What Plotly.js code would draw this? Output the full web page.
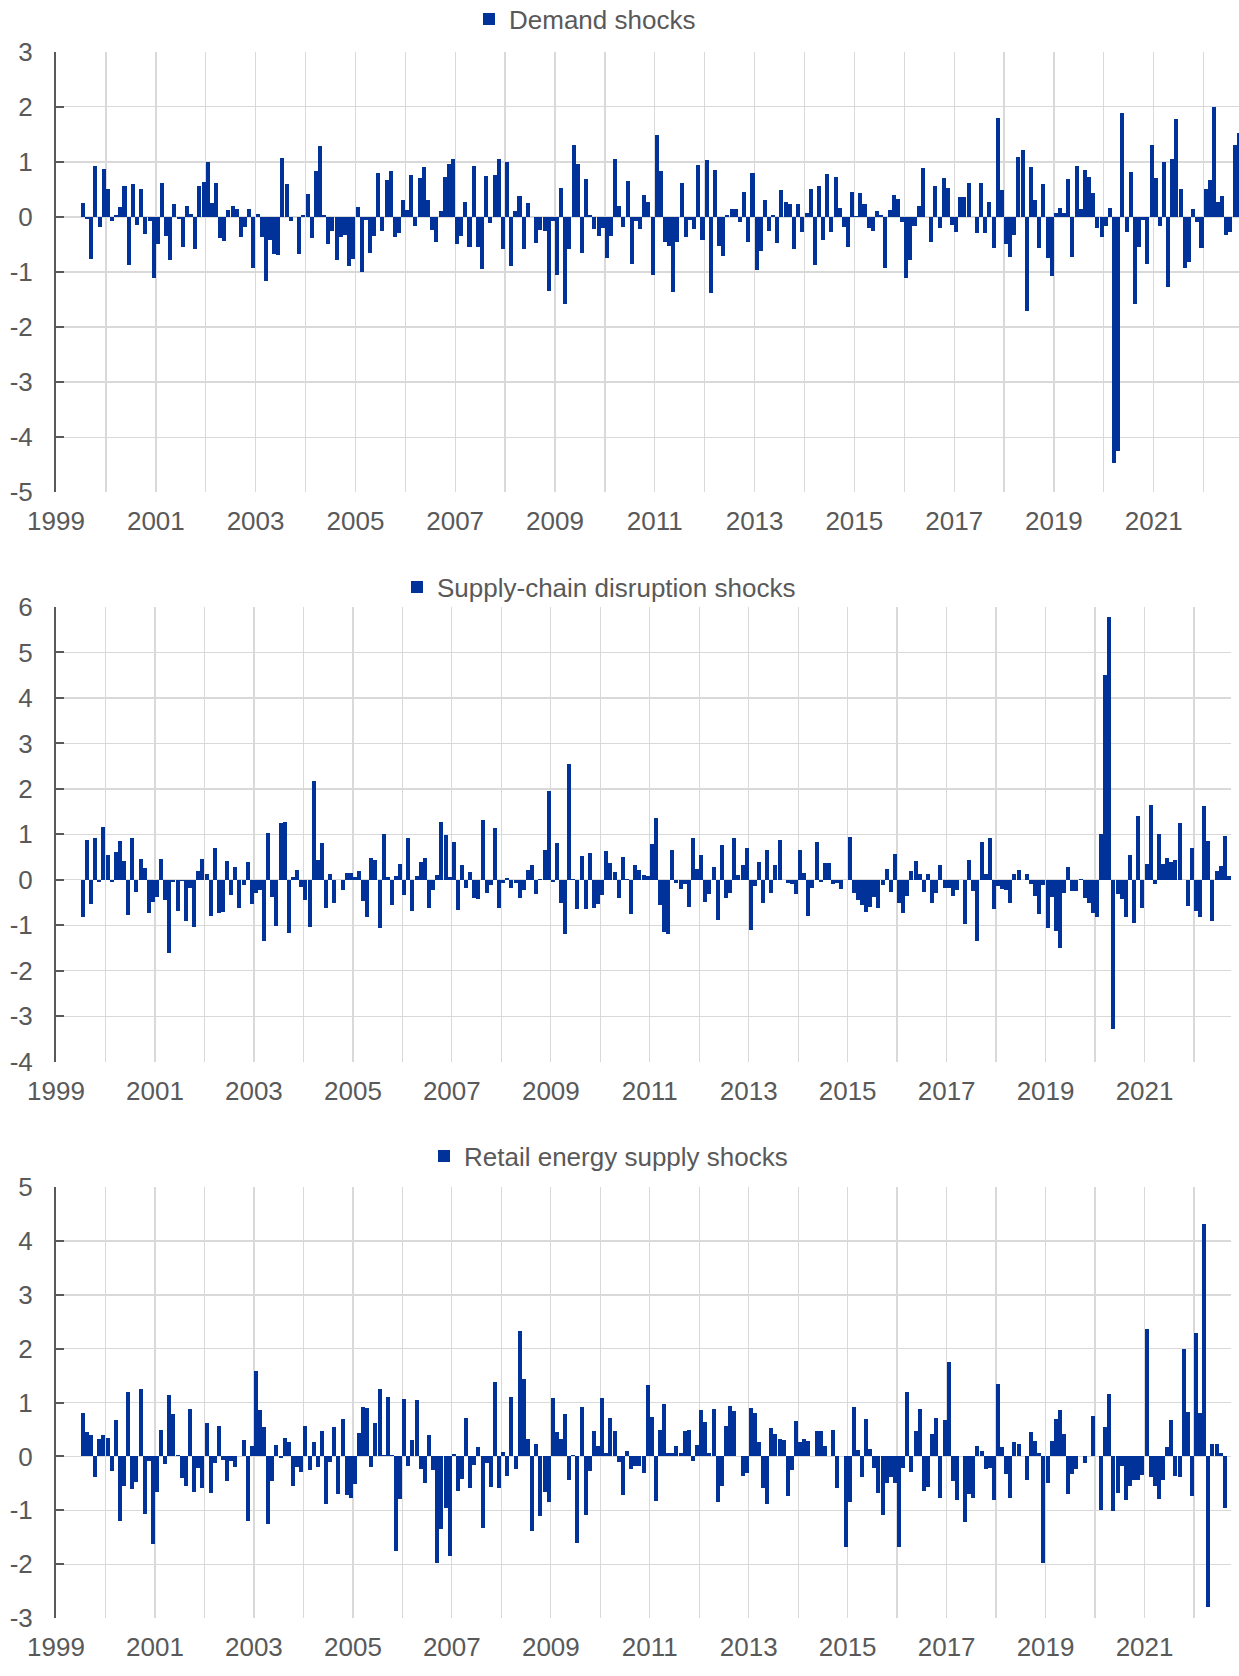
<!DOCTYPE html>
<html>
<head>
<meta charset="utf-8">
<script src="https://cdn.plot.ly/plotly-3.0.1.min.js"></script>
<style>
html,body{margin:0;padding:0;background:#ffffff;}
#chart{width:1239px;height:1676px;}
</style>
</head>
<body>
<div id="chart"></div>
<script>
// First observation: July 1999, monthly through September 2022
const START_YEAR = 1999;
const START_MONTH = 7;

const seriesNames = ['Demand shocks', 'Supply-chain disruption shocks', 'Retail energy supply shocks'];

const demandShocks = [
  0.26, -0.04, -0.77, 0.93, -0.18, 0.87,
  0.51, -0.07, 0.03, 0.18, 0.56, -0.87, 0.6, -0.15, 0.5, -0.31, -0.07, -1.1,
  -0.49, 0.62, -0.34, -0.79, 0.24, -0.03, -0.54, 0.2, 0.06, -0.58, 0.56, 0.64,
  0.99, 0.25, 0.62, -0.39, -0.44, 0.12, 0.2, 0.14, -0.36, -0.18, 0.15, -0.93,
  0.06, -0.37, -1.16, -0.41, -0.67, -0.7, 1.07, 0.6, -0.08, 0.0, -0.67, 0.03,
  0.42, -0.39, 0.84, 1.28, 0.04, -0.5, -0.25, -0.79, -0.37, -0.32, -0.9, -0.77,
  0.18, -1.0, -0.06, -0.65, -0.35, 0.79, -0.26, 0.67, 0.84, -0.36, -0.3, 0.31,
  0.12, 0.76, -0.16, 0.71, 0.9, 0.31, -0.24, -0.46, 0.11, 0.73, 0.97, 1.06,
  -0.5, -0.34, 0.28, -0.54, 0.93, -0.54, -0.94, 0.74, -0.11, 0.76, 1.05, -0.58,
  0.99, -0.9, 0.11, 0.38, -0.58, 0.25, 0.0, -0.47, -0.24, -0.25, -1.34, -0.07,
  -1.06, 0.53, -1.58, -0.59, 1.31, 0.97, -0.66, 0.68, 0.03, -0.22, -0.34, -0.2,
  -0.75, -0.35, 1.05, 0.2, -0.18, 0.65, -0.85, -0.08, -0.22, 0.39, 0.28, -1.06,
  1.49, 0.84, -0.45, -0.53, -1.36, -0.45, 0.62, -0.37, -0.06, -0.22, 0.94, -0.42,
  1.03, -1.38, 0.85, -0.53, -0.71, 0.03, 0.15, 0.14, -0.09, 0.45, -0.46, 0.8,
  -0.97, -0.62, 0.31, -0.25, 0.04, -0.48, 0.48, 0.28, 0.24, -0.58, 0.24, -0.27,
  0.08, 0.5, -0.87, 0.57, -0.42, 0.78, -0.27, 0.73, 0.16, -0.19, -0.54, 0.45,
  0.02, 0.43, 0.24, -0.21, -0.25, 0.1, 0.03, -0.92, 0.12, 0.39, 0.32, -0.09,
  -1.1, -0.79, -0.16, 0.2, 0.89, 0.0, -0.45, 0.56, -0.21, 0.71, 0.53, -0.14,
  -0.28, 0.36, 0.36, 0.61, 0.0, -0.29, 0.62, -0.3, 0.27, -0.57, 1.8, 0.48,
  -0.5, -0.73, -0.32, 1.08, 1.21, -1.7, 0.91, 0.31, -0.56, 0.6, -0.74, -1.07,
  0.08, 0.17, 0.07, 0.68, -0.72, 0.93, 0.15, 0.86, 0.72, 0.44, -0.2, -0.36,
  -0.17, 0.17, -4.46, -4.25, 1.88, -0.27, 0.82, -1.58, -0.55, -0.06, -0.85, 1.31,
  0.71, -0.16, 0.99, -1.28, 1.05, 1.77, 0.51, -0.92, -0.82, 0.14, -0.1, -0.56,
  0.5, 0.67, 2.0, 0.27, 0.38, -0.33, -0.27, 1.31, 1.53
];

const supplyChainShocks = [
  -0.82, 0.87, -0.54, 0.91, -0.04, 1.16,
  0.54, -0.04, 0.61, 0.86, 0.42, -0.78, 0.93, -0.26, 0.45, 0.26, -0.74, -0.48,
  -0.37, 0.46, -0.44, -1.62, -0.05, -0.68, -0.02, -0.91, -0.18, -1.03, 0.19, 0.46,
  0.12, -0.79, 0.7, -0.73, -0.7, 0.42, -0.33, 0.29, -0.61, -0.12, 0.4, -0.53,
  -0.28, -0.23, -1.35, 1.02, -0.37, -1.02, 1.26, 1.27, -1.16, 0.07, 0.22, -0.16,
  -0.45, -1.03, 2.17, 0.44, 0.81, -0.62, 0.12, -0.52, 0.0, -0.23, 0.14, 0.16,
  0.07, 0.2, -0.46, -0.82, 0.48, 0.43, -1.06, 1.01, 0.07, -0.56, 0.08, 0.34,
  -0.34, 0.91, -0.68, 0.09, 0.4, 0.49, -0.61, -0.23, 0.1, 1.28, 0.98, 0.07,
  0.84, -0.67, 0.32, -0.19, 0.17, -0.39, -0.42, 1.31, -0.28, -0.12, 1.15, -0.61,
  -0.08, 0.05, -0.18, -0.08, -0.39, -0.23, 0.21, 0.33, -0.31, 0.02, 0.66, 1.96,
  -0.05, 0.82, -0.5, -1.19, 2.54, 0.01, -0.64, 0.53, -0.65, 0.59, -0.63, -0.54,
  -0.34, 0.64, 0.36, 0.17, -0.41, 0.5, 0.02, -0.75, 0.33, 0.22, 0.1, 0.09,
  0.78, 1.37, -0.56, -1.15, -1.2, 0.65, -0.08, -0.21, -0.1, -0.59, 0.92, 0.23,
  0.54, -0.49, -0.31, 0.29, -0.89, 0.76, -0.4, -0.29, 0.93, 0.1, 0.32, 0.7,
  -1.1, -0.13, 0.39, -0.5, 0.65, -0.29, 0.32, 0.87, 0.0, -0.06, -0.09, -0.31,
  0.65, 0.16, -0.79, -0.17, 0.83, -0.04, 0.38, 0.36, -0.1, -0.06, -0.21, 0.0,
  0.94, -0.3, -0.45, -0.55, -0.7, -0.6, -0.38, -0.63, -0.11, 0.24, -0.27, 0.56,
  -0.52, -0.72, -0.36, 0.19, 0.42, 0.13, -0.26, 0.13, -0.5, -0.3, 0.32, -0.19,
  -0.19, -0.35, -0.23, 0.0, -0.98, 0.43, -0.25, -1.34, 0.84, 0.12, 0.93, -0.65,
  -0.13, -0.2, -0.23, -0.5, 0.12, 0.22, 0.0, 0.12, -0.1, -0.35, -0.75, -0.12,
  -1.07, -0.37, -1.12, -1.51, -0.29, 0.29, -0.24, -0.24, 0.02, -0.41, -0.51, -0.72,
  -0.81, 1.0, 4.5, 5.78, -3.27, -0.32, -0.43, -0.81, 0.55, -0.95, 1.4, -0.63,
  0.34, 1.65, -0.09, 1.01, 0.35, 0.47, 0.4, 0.43, 1.25, 0.0, -0.57, 0.71,
  -0.69, -0.81, 1.62, 0.86, -0.9, 0.2, 0.31, 0.96, 0.08
];

const retailEnergyShocks = [
  0.81, 0.46, 0.4, -0.38, 0.32, 0.4,
  0.35, -0.27, 0.67, -1.2, -0.54, 1.2, -0.61, -0.48, 1.25, -1.07, -0.08, -1.63,
  -0.66, 0.49, -0.14, 1.14, 0.78, 0.02, -0.4, -0.54, 0.88, -0.66, -0.21, -0.58,
  0.63, -0.67, -0.13, 0.56, -0.07, -0.45, -0.08, -0.19, 0.0, 0.3, -1.2, 0.19,
  1.59, 0.87, 0.55, -1.26, -0.46, 0.22, -0.02, 0.35, 0.26, -0.54, -0.2, -0.28,
  0.56, -0.26, 0.26, -0.2, 0.48, -0.89, -0.11, 0.54, -0.69, 0.69, -0.71, -0.77,
  -0.52, 0.44, 0.92, 0.9, -0.2, 0.63, 1.26, 0.03, 1.11, 0.02, -1.75, -0.79,
  1.07, -0.17, 0.31, 1.05, -0.24, -0.49, 0.4, -0.25, -1.97, -1.34, -0.95, -1.84,
  0.04, -0.64, -0.42, 0.71, -0.59, -0.15, 0.17, -1.32, -0.13, -0.56, 1.39, -0.59,
  0.09, -0.36, 1.1, -0.24, 2.34, 1.44, 0.33, -1.39, 0.24, -1.11, -0.66, -0.85,
  1.08, 0.46, 0.32, 0.79, -0.43, 0.03, -1.6, 0.92, -1.08, -0.27, 0.48, 0.2,
  1.09, 0.07, 0.72, 0.47, -0.11, -0.72, 0.1, -0.24, -0.17, -0.17, -0.3, 1.32,
  0.74, -0.83, 0.5, 0.98, 0.06, 0.07, 0.19, 0.06, 0.47, 0.49, -0.08, 0.22,
  0.87, 0.64, 0.06, 0.88, -0.84, -0.55, 0.57, 0.93, 0.85, 0.01, -0.37, -0.3,
  0.9, 0.81, 0.27, -0.59, -0.89, 0.52, 0.41, 0.32, 0.31, -0.73, -0.25, 0.65,
  0.26, 0.32, 0.29, 0.01, 0.48, 0.47, 0.2, 0.01, 0.49, -0.59, 0.0, -1.69,
  -0.85, 0.92, 0.12, -0.38, 0.7, 0.14, -0.22, -0.67, -1.08, -0.5, -0.39, -0.5,
  -1.68, -0.22, 1.19, -0.29, 0.47, 0.89, -0.65, -0.56, 0.41, 0.71, -0.77, 0.67,
  1.75, -0.45, -0.8, 0.0, -1.22, -0.7, -0.77, 0.2, 0.1, -0.24, -0.22, -0.8,
  1.34, 0.17, -0.32, -0.77, 0.27, 0.24, 0.0, -0.43, 0.46, 0.28, 0.06, -1.97,
  -0.5, 0.28, 0.7, 0.87, 0.41, -0.7, -0.32, -0.24, 0.0, -0.12, 0.01, 0.76,
  0.0, -1.0, 0.54, 1.16, -1.02, -0.67, -0.17, -0.81, -0.55, -0.43, -0.43, -0.35,
  2.37, -0.38, -0.54, -0.79, -0.43, 0.17, 0.67, -0.36, -0.38, 2.0, 0.82, -0.74,
  2.29, 0.8, 4.31, -2.79, 0.23, 0.23, 0.06, -0.95, 0.0
];

const yTickVals = {
  p1: [-5, -4, -3, -2, -1, 0, 1, 2, 3],
  p2: [-4, -3, -2, -1, 0, 1, 2, 3, 4, 5, 6],
  p3: [-3, -2, -1, 0, 1, 2, 3, 4, 5]
};

function monthDates(n) {
  const out = [];
  for (let i = 0; i < n; i++) {
    const t = (START_MONTH - 1) + i;
    const y = START_YEAR + Math.floor(t / 12);
    const m = (t % 12) + 1;
    out.push(y + '-' + String(m).padStart(2, '0') + '-01');
  }
  return out;
}

// ---- layout geometry (pixels) ----
const W = 1239, H = 1676;
const ML = 56, MR = 0, MT = 0, MB = 58;
const PW = W - ML - MR, PH = H - MT - MB;
const fx = px => (px - ML) / PW;
const fy = px => 1 - (px - MT) / PH;

const FONT = 'Liberation Sans, Arial, sans-serif';
const TXT = '#595959';
const GRID = '#d9d9d9';
const BAR = '#003299';
const FS = 26;

// legend vertical centres (px from page top)
const panels = [
  {vals: demandShocks, name: seriesNames[0], top: 51.7, bottom: 492.3, yr: [-5, 3], ticks: yTickVals.p1,
   xEnd: 1239, xr: ['1999-01-01', '2022-09-17'], leg: {x: 469, cy: 19}},
  {vals: supplyChainShocks, name: seriesNames[1], top: 607, bottom: 1061.7, yr: [-4, 6], ticks: yTickVals.p2,
   xEnd: 1231, xr: ['1999-01-01', '2022-10-01'], leg: {x: 397, cy: 587}},
  {vals: retailEnergyShocks, name: seriesNames[2], top: 1187.3, bottom: 1618, yr: [-3, 5], ticks: yTickVals.p3,
   xEnd: 1231, xr: ['1999-01-01', '2022-10-01'], leg: {x: 424, cy: 1156}}
];

const data = [];
const layout = {
  width: W, height: H,
  margin: {l: ML, r: MR, t: MT, b: MB, autoexpand: false},
  paper_bgcolor: '#ffffff', plot_bgcolor: '#ffffff',
  font: {family: FONT, color: TXT, size: FS},
  bargap: 0,
  showlegend: true,
  hovermode: false
};

panels.forEach((p, i) => {
  const k = i + 1;
  const xs = k === 1 ? '' : String(k);
  const zk = String(k + 3);
  const legName = k === 1 ? 'legend' : 'legend' + k;
  const yDom = [Math.max(0, fy(p.bottom)), fy(p.top)];
  const xDom = [0, Math.min(1, fx(p.xEnd))];

  data.push({
    type: 'bar',
    name: p.name,
    x: monthDates(p.vals.length),
    y: p.vals,
    xperiod: 'M1',
    xperiodalignment: 'middle',
    xaxis: 'x' + xs,
    yaxis: 'y' + xs,
    legend: legName,
    showlegend: true,
    marker: {color: BAR, line: {width: 0}}
  });

  layout['xaxis' + xs] = {
    type: 'date',
    domain: xDom,
    range: p.xr,
    anchor: 'y' + xs,
    tick0: '1999-01-01',
    dtick: 'M24',
    tickformat: '%Y',
    ticks: '',
    showline: false,
    zeroline: false,
    showgrid: true,
    gridcolor: GRID,
    gridwidth: 1.3,
    minor: {dtick: 'M12', tick0: '1999-01-01', showgrid: true, gridcolor: GRID, gridwidth: 1.3, ticks: ''},
    tickfont: {family: FONT, size: FS, color: TXT},
    ticklabelstandoff: 11,
    automargin: false,
    fixedrange: true
  };

  layout['yaxis' + xs] = {
    domain: yDom,
    range: p.yr,
    anchor: 'x' + xs,
    tickmode: 'array',
    tickvals: p.ticks,
    ticktext: p.ticks.map(String),
    showgrid: true,
    gridcolor: GRID,
    gridwidth: 1.3,
    zeroline: false,
    showline: true,
    linecolor: TXT,
    linewidth: 2,
    ticks: 'inside',
    ticklen: 8,
    tickwidth: 2,
    tickcolor: TXT,
    tickfont: {family: FONT, size: FS, color: TXT},
    ticklabelstandoff: 16,
    automargin: false,
    fixedrange: true
  };

  // zero-crossing horizontal axis (line at y = 0 with biennial tick marks)
  const zeroPos = yDom[0] + (0 - p.yr[0]) / (p.yr[1] - p.yr[0]) * (yDom[1] - yDom[0]);
  layout['xaxis' + zk] = {
    type: 'date',
    overlaying: 'x' + xs,
    domain: xDom,
    anchor: 'free',
    position: zeroPos,
    range: p.xr,
    tick0: '1999-01-01',
    dtick: 'M24',
    showgrid: false,
    zeroline: false,
    showline: true,
    linecolor: TXT,
    linewidth: 2,
    ticks: 'outside',
    ticklen: 7,
    tickwidth: 2,
    tickcolor: TXT,
    showticklabels: false,
    layer: 'above traces',
    fixedrange: true
  };

  layout[legName] = {
    x: fx(p.leg.x),
    xanchor: 'left',
    y: fy(p.leg.cy),
    yanchor: 'middle',
    orientation: 'h',
    itemwidth: 30,
    bgcolor: 'rgba(0,0,0,0)',
    borderwidth: 0,
    font: {family: FONT, size: FS, color: TXT}
  };
});

Plotly.newPlot('chart', data, layout, {displayModeBar: false, staticPlot: true});
</script>
</body>
</html>
